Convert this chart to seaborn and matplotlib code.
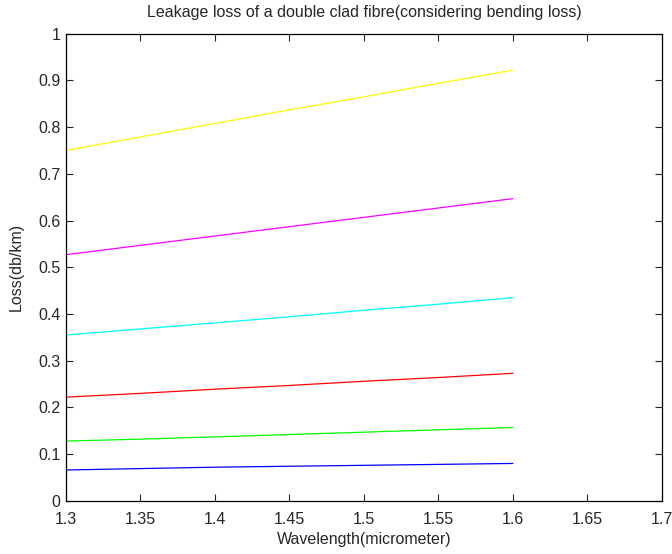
import matplotlib
matplotlib.use("Agg")
import matplotlib.pyplot as plt
import seaborn as sns
import pandas as pd

wavelength = [1.30, 1.35, 1.40, 1.45, 1.50, 1.55, 1.60]
loss_blue = [0.066, 0.069, 0.072, 0.074, 0.076, 0.078, 0.080]
loss_green = [0.128, 0.132, 0.137, 0.142, 0.147, 0.152, 0.157]
loss_red = [0.222, 0.230, 0.239, 0.247, 0.256, 0.264, 0.273]
loss_cyan = [0.355, 0.368, 0.381, 0.394, 0.408, 0.421, 0.435]
loss_magenta = [0.527, 0.547, 0.567, 0.587, 0.607, 0.627, 0.647]
loss_yellow = [0.750, 0.779, 0.808, 0.837, 0.865, 0.894, 0.922]

series = {
    "b": loss_blue,
    "g": loss_green,
    "r": loss_red,
    "c": loss_cyan,
    "m": loss_magenta,
    "y": loss_yellow,
}
colors = {"b": "#0000ff", "g": "#00ff00", "r": "#ff0000",
          "c": "#00ffff", "m": "#ff00ff", "y": "#ffff00"}

rows = []
for k, vals in series.items():
    for x, v in zip(wavelength, vals):
        rows.append({"wavelength": x, "loss": v, "curve": k})
df = pd.DataFrame(rows)

sns.set_style("ticks")
plt.rcParams["font.family"] = ["Liberation Sans", "DejaVu Sans"]

fig = plt.figure(figsize=(6.72, 5.54), dpi=100)
ax = fig.add_axes([0.098, 0.096, 0.887, 0.843])
sns.lineplot(data=df, x="wavelength", y="loss", hue="curve", palette=colors,
             legend=False, linewidth=0.9, ax=ax)

ax.set_xlim(1.3, 1.7)
ax.set_ylim(0, 1)
ax.set_xticks([1.3, 1.35, 1.4, 1.45, 1.5, 1.55, 1.6, 1.65, 1.7])
ax.set_xticklabels(["1.3", "1.35", "1.4", "1.45", "1.5", "1.55", "1.6", "1.65", "1.7"])
ax.set_yticks([i / 10 for i in range(11)])
ax.set_yticklabels(["0", "0.1", "0.2", "0.3", "0.4", "0.5", "0.6", "0.7", "0.8", "0.9", "1"])
ax.tick_params(direction="in", top=True, right=True, labelsize=11.5, length=5, width=0.8)
ax.tick_params(axis="x", pad=8)
ax.tick_params(axis="y", pad=4)
for s in ax.spines.values():
    s.set_visible(True)
    s.set_linewidth(0.9)
    s.set_color("black")

ax.set_xlabel("Wavelength(micrometer)", fontsize=11.5, labelpad=4)
ax.set_ylabel("Loss(db/km)", fontsize=11.5, labelpad=10)
ax.set_title("Leakage loss of a double clad fibre(considering bending loss)", fontsize=11.5, pad=12)

fig.savefig("out.png", dpi=100)
